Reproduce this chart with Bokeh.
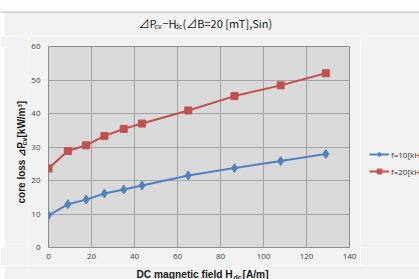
import math
from bokeh.plotting import figure
from bokeh.layouts import column, row
from bokeh.models import Label, Legend, LegendItem, Range1d, FixedTicker, BoxAnnotation, ColumnDataSource
from bokeh.embed import file_html
from bokeh.resources import INLINE

# ---- data ----
h_dc = [0, 9, 17.5, 26, 35, 43.5, 65, 86.5, 108, 129]
p_f10 = [9.6, 12.9, 14.3, 16.1, 17.3, 18.5, 21.5, 23.7, 25.8, 27.9]
p_f20 = [23.6, 28.8, 30.5, 33.3, 35.4, 37.0, 40.9, 45.2, 48.4, 52.0]
series_names = ["f=10[kHz]", "f=20[kHz]"]
x_ticks = [0, 20, 40, 60, 80, 100, 120, 140]
y_ticks = [0, 10, 20, 30, 40, 50, 60]

BG = "#f2f2f2"
W, H = 419, 279
TOP_H = 36          # title strip
LEFT_W = 28         # y-label strip
BOT_H = 14          # x-label strip
LEG_X = 360         # legend strip starts here
MID_H = H - TOP_H - BOT_H
FL, FT, FR, FB = 46, 46, 349, 247   # frame edges (page px)
blue, red = "#4f81bd", "#c0504d"

# ---------- main plot ----------
p = figure(width=LEG_X - LEFT_W, height=MID_H, output_backend="svg", toolbar_location=None,
           x_range=Range1d(0, 140), y_range=Range1d(0, 60),
           min_border_left=FL - LEFT_W, min_border_top=FT - TOP_H,
           min_border_right=LEG_X - FR, min_border_bottom=(TOP_H + MID_H) - FB)
p.border_fill_color = BG
p.background_fill_color = "#d9d9d9"
p.outline_line_color = "#8c8c8c"

for ax in (p.xaxis[0], p.yaxis[0]):
    ax.axis_line_color = None
    ax.major_tick_line_color = None
    ax.minor_tick_line_color = None
    ax.major_tick_out = 0
    ax.major_tick_in = 0
    ax.minor_tick_out = 0
    ax.minor_tick_in = 0
    ax.axis_label_standoff = 0
    ax.major_label_text_font = "Open Sans"
    ax.major_label_text_font_size = "8px"
    ax.major_label_text_color = "#404040"
p.yaxis.major_label_standoff = 8
p.xaxis.major_label_standoff = 6
p.xaxis.ticker = FixedTicker(ticks=x_ticks)
p.yaxis.ticker = FixedTicker(ticks=y_ticks)
p.xgrid.ticker = FixedTicker(ticks=x_ticks)
p.ygrid.ticker = FixedTicker(ticks=y_ticks)
for g in (p.xgrid[0], p.ygrid[0]):
    g.grid_line_color = "#a3a3a3"
    g.grid_line_width = 1

src = ColumnDataSource(dict(x=h_dc, a=p_f10, b=p_f20))
p.line("x", "a", source=src, line_color=blue, line_width=2)
p.scatter("x", "a", source=src, marker="diamond", size=9, fill_color=blue, line_color=blue)
p.line("x", "b", source=src, line_color=red, line_width=2)
p.scatter("x", "b", source=src, marker="square", size=7, fill_color=red, line_color=red)


# ---------- helper strips for composed texts ----------
# fl / fb: page x of the strip's frame left edge and page y of its frame bottom edge
def strip(w, h, fl, fb, xr=(0, 1), yr=(0, 1), bt=0, bb=0):
    f = figure(width=w, height=h, output_backend="svg", toolbar_location=None,
               x_range=Range1d(*xr), y_range=Range1d(*yr), title=None,
               x_axis_type=None, y_axis_type=None, min_border=0,
               min_border_top=bt, min_border_bottom=bb)
    f.outline_line_color = None
    f.background_fill_color = BG
    f.border_fill_color = BG
    f.xgrid.visible = False
    f.ygrid.visible = False
    f._origin = (fl, fb)
    return f


def lab(f, text, px, py, size, font, bold=False, angle=0.0, color="#1a1a1a"):
    fl, fb = f._origin
    f.add_layout(Label(x=px - fl, y=fb - py, x_units="screen", y_units="screen",
                       text=text, text_font=font, text_font_size=size, text_color=color,
                       text_font_style="bold" if bold else "normal", angle=angle,
                       text_align="left", text_baseline="middle"))


def box(f, left, right, top, bottom, color):
    fl, fb = f._origin
    f.add_layout(BoxAnnotation(left=left - fl, right=right - fl,
                               top=fb - top, bottom=fb - bottom,
                               left_units="screen", right_units="screen",
                               top_units="screen", bottom_units="screen",
                               fill_color=color, fill_alpha=1, line_color=None))


# legend strip: the series are repeated here outside the visible range, only for the legend samples
lg = strip(W - LEG_X, MID_H, LEG_X, FB, xr=(-2, -1), yr=(-2, -1),
           bt=FT - TOP_H, bb=(TOP_H + MID_H) - FB)
e1 = lg.line("x", "a", source=src, line_color=blue, line_width=2)
e1m = lg.scatter("x", "a", source=src, marker="diamond", size=9, fill_color=blue, line_color=blue)
e2 = lg.line("x", "b", source=src, line_color=red, line_width=2)
e2m = lg.scatter("x", "b", source=src, marker="square", size=7, fill_color=red, line_color=red)
leg_top = 148
legend = Legend(items=[LegendItem(label=series_names[0], renderers=[e1, e1m]),
                       LegendItem(label=series_names[1], renderers=[e2, e2m])],
                location=(369 - LEG_X, FB - (leg_top + 29)),
                padding=0, margin=0, spacing=5,
                glyph_height=12, glyph_width=20, label_height=12, label_standoff=2,
                label_text_font="Open Sans", label_text_font_size="8px",
                label_text_color="#333333", background_fill_alpha=0,
                border_line_color=None)
lg.add_layout(legend, "center")

# title strip
t = strip(W, TOP_H, 0, TOP_H)
box(t, 0, W, 0, 11, "white")
box(t, 0, W, 11, 12.5, "#cfcfcf")
box(t, 0, 4, 12.5, TOP_H, "white")
TF = "Noto Sans CJK JP"
lab(t, "⊿P", 138, 22, "11px", TF)
lab(t, "cv", 154, 25, "7px", TF)
lab(t, "−H", 162, 22, "11px", TF)
lab(t, "dc", 174, 25, "7px", TF)
lab(t, "(⊿B=20 [mT],Sin)", 182, 22, "11px", TF)

# y label strip
AF = "Liberation Sans"
yl = strip(LEFT_W, MID_H, 0, FB, bt=FT - TOP_H, bb=(TOP_H + MID_H) - FB)
box(yl, 0, 4, TOP_H, TOP_H + MID_H, "white")
r = math.pi / 2
lab(yl, "core loss ⊿P", 21, 203, "10px", AF, bold=True, angle=r)
lab(yl, "cv", 24, 145, "7px", AF, bold=True, angle=r)
lab(yl, "[kW/m³]", 21, 137, "10px", AF, bold=True, angle=r)

# x label strip
xl = strip(W, BOT_H, 0, H)
box(xl, 0, 4, TOP_H + MID_H, H, "white")
lab(xl, "DC magnetic field H", 136, 274, "10.2px", AF, bold=True)
lab(xl, "dc", 233, 276.5, "7px", AF, bold=True)
lab(xl, "[A/m]", 242, 274, "10.2px", AF, bold=True)

layout = column(t, row(yl, p, lg, spacing=0), xl, spacing=0)

open("out.html", "w").write(file_html(layout, INLINE))
